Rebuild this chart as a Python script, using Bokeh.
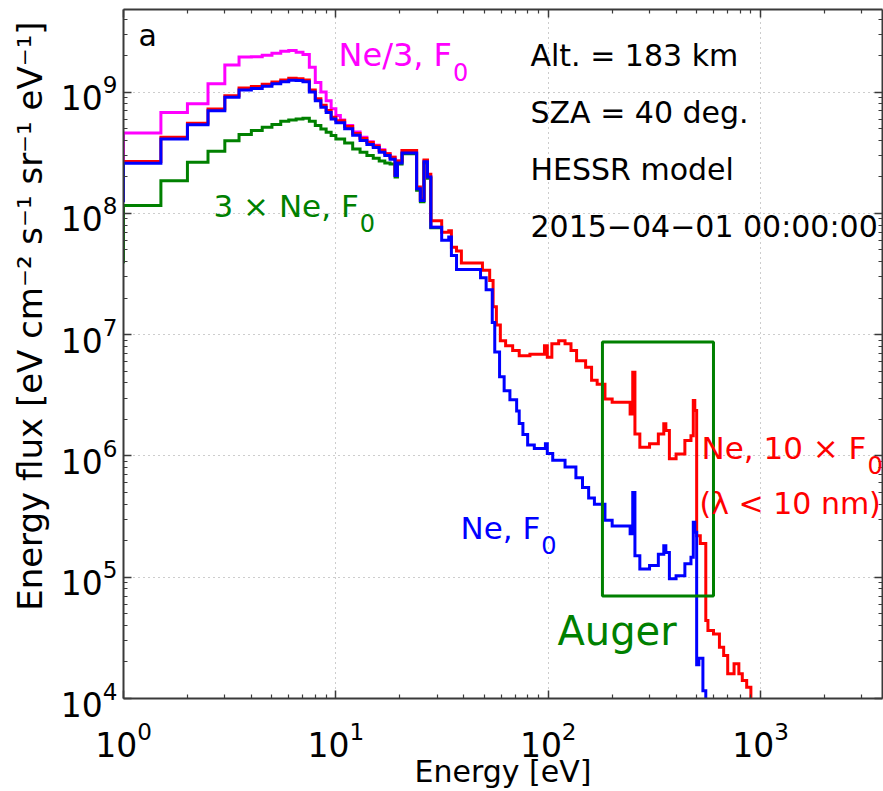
import math
from bokeh.plotting import figure
from bokeh.models import Range1d, FixedTicker, LogAxis, Label
from bokeh.embed import file_html
from bokeh.resources import INLINE

# ---------------- data (bin edges [eV] and flux per bin) ----------------
blue_E = [0.9, 1.0, 1.5, 2.0, 2.5, 3.0, 3.5, 4.0, 4.5, 5.0, 5.5, 6.0, 6.5, 7.0, 7.5, 8.0, 8.5, 9.0, 9.5, 10,
          11, 12, 13, 14, 15, 16, 17, 18, 19, 19.5, 20.5, 24, 25, 26, 27, 28, 31.5, 34, 35, 37,
          48, 51, 54.5, 56, 59, 62, 66, 71, 73, 76, 80, 86, 97, 99, 105, 120, 135, 145, 155, 165,
          185, 200, 243, 250, 256, 270, 300, 330, 350, 358, 372, 400, 440, 470, 482, 490, 500, 512, 535, 552, 620]
blue_F = [1.27e8, 2.59e8, 4.11e8, 5.37e8, 7.03e8, 9.06e8, 1.04e9, 1.07e9, 1.12e9, 1.17e9,
          1.22e9, 1.25e9, 1.245e9, 1.22e9, 1.0e9, 8.5e8, 7.5e8, 6.8e8, 6.0e8,
          5.6e8, 5.0e8, 4.4e8, 4.0e8, 3.7e8, 3.5e8, 3.2e8, 3.0e8, 2.8e8, 2.05e8, 2.6e8, 3.15e8,
          1.6e8, 1.28e8, 2.67e8, 2.0e8, 7.7e7, 6.0e7, 6.4e7, 4.5e7, 3.45e7, 2.95e7, 2.35e7,
          1.26e7, 7.2e6, 4.5e6, 3.45e6, 2.9e6, 2.35e6, 1.85e6, 1.5e6, 1.23e6, 1.15e6, 1.26e6,
          1.05e6, 9.2e5, 8.1e5, 6.6e5, 5.5e5, 4.5e5, 4.0e5, 2.95e5, 2.65e5, 2.28e5, 5.0e5,
          1.5e5, 1.17e5, 1.25e5, 1.55e5, 1.82e5, 1.6e5, 9.7e4, 1.03e5, 1.29e5, 1.46e5, 2.84e5,
          2.35e5, 1.9e4, 2.15e4, 1.16e4, 6.0e3]

red_E = [0.9, 1.0, 1.5, 2.0, 2.5, 3.0, 3.5, 4.0, 4.5, 5.0, 5.5, 6.0, 6.5, 7.0, 7.5, 8.0, 8.5, 9.0, 9.5, 10,
         11, 12, 13, 14, 15, 16, 17, 18, 19, 19.5, 20.5, 24, 25, 26, 27, 28, 31.5, 34, 35, 37,
         39, 49, 53, 55, 57, 59.5, 63, 68, 73, 82, 96, 99, 104, 112, 120, 128, 136, 150, 160, 170,
         185, 200, 243, 250, 256, 270, 300, 330, 350, 358, 372, 400, 440, 470, 482, 490, 500, 520, 552, 565,
         600, 640, 670, 700, 750, 790, 820, 860, 900, 950]
red_F = [1.3e8, 2.68e8, 4.25e8, 5.55e8, 7.25e8, 9.35e8, 1.08e9, 1.11e9, 1.16e9, 1.21e9,
         1.26e9, 1.30e9, 1.29e9, 1.26e9, 1.04e9, 8.8e8, 7.8e8, 7.05e8, 6.2e8,
         5.8e8, 5.2e8, 4.55e8, 4.15e8, 3.85e8, 3.6e8, 3.3e8, 3.1e8, 2.9e8, 2.1e8, 2.7e8, 3.3e8,
         1.65e8, 1.32e8, 2.75e8, 2.1e8, 8.7e7, 7.0e7, 7.2e7, 5.25e7, 4.9e7, 3.9e7, 3.4e7,
         2.8e7, 1.7e7, 1.2e7, 8.9e6, 8.1e6, 7.4e6, 6.7e6, 6.9e6, 8.1e6, 6.5e6, 8.4e6, 8.9e6,
         8.4e6, 7.4e6, 6.1e6, 5.4e6, 4.2e6, 3.9e6, 2.95e6, 2.77e6, 2.22e6, 4.9e6, 1.52e6,
         1.18e6, 1.26e6, 1.52e6, 1.84e6, 1.62e6, 9.5e5, 1.04e6, 1.34e6, 1.47e6, 2.86e6, 2.37e6,
         2.2e5, 1.9e5, 4.4e4, 3.64e4, 3.41e4, 2.65e4, 2.26e4, 1.6e4, 1.93e4, 1.6e4, 1.41e4,
         1.24e4, 7.0e3]

magenta_E = [0.9, 1.0, 1.5, 2.0, 2.5, 3.0, 3.5, 4.0, 4.5, 5.0, 5.5, 6.0, 6.5, 7.0, 7.5, 8.0, 8.5, 9.0, 9.5, 10,
             10.5, 11, 12, 13, 14, 15, 16, 17, 18, 19, 19.5, 20.5, 24, 25, 26, 27, 28, 31.5]
magenta_F = [2.8e8, 4.6e8, 6.8e8, 8.0e8, 1.17e9, 1.67e9, 1.95e9, 1.96e9, 2.01e9, 2.09e9,
             2.17e9, 2.2e9, 2.13e9, 2.04e9, 1.6e9, 1.2e9, 1.0e9, 8.5e8, 7.3e8,
             6.4e8, 5.9e8, 5.3e8, 4.7e8, 4.25e8, 3.9e8, 3.65e8, 3.35e8, 3.1e8, 2.9e8,
             2.05e8, 2.7e8, 3.3e8, 1.6e8, 1.28e8, 2.7e8, 2.0e8, 7.7e7]

green_E = [0.9, 1.0, 1.5, 2.0, 2.5, 3.0, 3.5, 4.0, 4.5, 5.0, 5.5, 6.0, 6.5, 7.0, 7.5, 8.0, 8.5, 9.0, 9.5, 10,
           11, 12, 13, 14, 15, 16, 17, 18, 19, 19.5, 20.5, 24, 25, 26, 27, 28, 31.5]
green_F = [4.0e7, 1.16e8, 1.86e8, 2.64e8, 3.25e8, 3.98e8, 4.47e8, 4.82e8, 5.13e8, 5.4e8,
           5.74e8, 5.9e8, 6.01e8, 6.08e8, 5.74e8, 5.3e8, 4.97e8, 4.67e8, 4.38e8,
           4.1e8, 3.8e8, 3.4e8, 3.2e8, 3.0e8, 2.85e8, 2.7e8, 2.6e8, 2.55e8,
           2.0e8, 2.55e8, 3.1e8, 1.55e8, 1.25e8, 2.6e8, 1.95e8, 7.6e7]

auger_box = {"left": 180, "right": 600, "bottom": 7.0e4, "top": 8.7e6}

x_major = [1, 10, 100, 1000]
y_major = [1e4, 1e5, 1e6, 1e7, 1e8, 1e9]

# ---------------- layout ----------------
FIG_W, FIG_H = 883, 791
B_L, B_R, B_T, B_B = 123, 1, 9, 93
X_RANGE = (1.0, 3750.0)
Y_RANGE = (1e4, 4.8e9)
FL, FR = B_L, FIG_W - B_R
FT, FB = B_T, FIG_H - B_B
LX0, LX1 = math.log10(X_RANGE[0]), math.log10(X_RANGE[1])
LY0, LY1 = math.log10(Y_RANGE[0]), math.log10(Y_RANGE[1])


def X(px):
    return 10 ** (LX0 + (px - FL) / (FR - FL) * (LX1 - LX0))


def Y(py):
    return 10 ** (LY0 + (FB - py) / (FB - FT) * (LY1 - LY0))


FONT = "DejaVu Sans"
W = {'N': .748, 'e': .615, '/': .337, '3': .636, ',': .318, ' ': .318, 'F': .575, '×': .838,
     '1': .636, '0': .636}


def tw(text, size):
    return sum(W.get(ch, .6) for ch in text) * size


def stairs(edges, vals):
    xs, ys = [], []
    for i, v in enumerate(vals):
        xs += [edges[i], edges[i + 1]]
        ys += [v, v]
    return xs, ys


p = figure(width=FIG_W, height=FIG_H, x_axis_type="log", y_axis_type="log",
           x_range=Range1d(*X_RANGE), y_range=Range1d(*Y_RANGE),
           output_backend="svg", toolbar_location=None,
           min_border_left=B_L, min_border_right=B_R, min_border_top=B_T, min_border_bottom=B_B,
           background_fill_color="white", border_fill_color="white")
p.outline_line_color = None

x_minor = [m * 10 ** k for k in range(0, 4) for m in range(2, 10) if m * 10 ** k <= X_RANGE[1]]
y_minor = [m * 10 ** k for k in range(4, 10) for m in range(2, 10) if m * 10 ** k <= Y_RANGE[1]]
xt = FixedTicker(ticks=x_major, minor_ticks=x_minor)
yt = FixedTicker(ticks=y_major, minor_ticks=y_minor)

top_ax = LogAxis()
right_ax = LogAxis()
p.add_layout(top_ax, "above")
p.add_layout(right_ax, "right")
for ax in p.xaxis:
    ax.ticker = xt
for ax in p.yaxis:
    ax.ticker = yt
for ax in p.xaxis + p.yaxis:
    ax.axis_line_color = "#3a3a3a"
    ax.axis_line_width = 2
    ax.major_tick_in = 8
    ax.major_tick_out = 0
    ax.minor_tick_in = 4
    ax.minor_tick_out = 0
    ax.major_tick_line_color = "#3a3a3a"
    ax.minor_tick_line_color = "#3a3a3a"
    ax.major_tick_line_width = 1.5
    ax.minor_tick_line_width = 1.2
    ax.major_label_text_font = FONT
    ax.major_label_text_color = "black"
    ax.major_label_text_font_size = "33px"
    ax.axis_label_text_font = FONT
    ax.axis_label_text_font_style = "normal"
    ax.axis_label_text_color = "black"
for ax in (top_ax, right_ax):
    ax.major_label_text_font_size = "1px"
    ax.major_label_text_color = None
    ax.major_label_standoff = 0

bx = p.below[0]
bx.major_label_standoff = 22
bx.axis_label = "Energy [eV]"
bx.axis_label_text_font_size = "30px"
bx.axis_label_standoff = -6

ly = p.left[0]
ly.major_label_standoff = 6
ly.axis_label = "\u00a0" * 7 + "Energy flux [eV cm⁻² s⁻¹ sr⁻¹ eV⁻¹]"
ly.axis_label_text_font_size = "34px"
ly.axis_label_standoff = 8

for g in (p.xgrid[0], p.ygrid[0]):
    g.grid_line_color = "#9a9a9a"
    g.grid_line_dash = "1 4"
    g.grid_line_width = 1
p.xgrid[0].ticker = xt
p.ygrid[0].ticker = yt

# ---------------- curves ----------------
for E, F, col in ((magenta_E, magenta_F, "#ff00ff"), (green_E, green_F, "#008000"),
                  (red_E, red_F, "#ff0000"), (blue_E, blue_F, "#0000ff")):
    xs, ys = stairs(E, F)
    p.line(xs, ys, line_color=col, line_width=3, line_join="miter")

p.quad(left=[auger_box["left"]], right=[auger_box["right"]], bottom=[auger_box["bottom"]],
       top=[auger_box["top"]], fill_color=None, line_color="#008000", line_width=3)


# ---------------- texts ----------------
def lab(text, px, py, color="black", size=30, align="left"):
    p.add_layout(Label(x=X(px), y=Y(py), text=text, text_color=color, text_font=FONT,
                       text_font_size=f"{size}px", text_align=align, text_baseline="alphabetic"))


def lab_sub(text, sub, px, py, color, size=31, sub_size=24, drop=17):
    lab(text, px, py, color, size)
    lab(sub, px + tw(text, size) + 1, py + drop, color, sub_size)


lab("a", 138, 35, size=30)
lab("Alt. = 183 km", 530, 55)
lab("SZA = 40 deg.", 530, 112)
lab("HESSR model", 530, 169)
lab("2015−04−01 00:00:00", 530, 226)

lab_sub("Ne/3, F", "0", 338, 54, "#ff00ff", size=32)
lab_sub("3 × Ne, F", "0", 213, 205, "#008000")
lab_sub("Ne, 10 × F", "0", 701, 447, "#ff0000")
lab("(λ < 10 nm)", 699, 503, "#ff0000", 30)
lab_sub("Ne, F", "0", 460, 527, "#0000ff")
lab("Auger", 557, 630, "#008000", 40)

open("out.html", "w").write(file_html(p, INLINE))
